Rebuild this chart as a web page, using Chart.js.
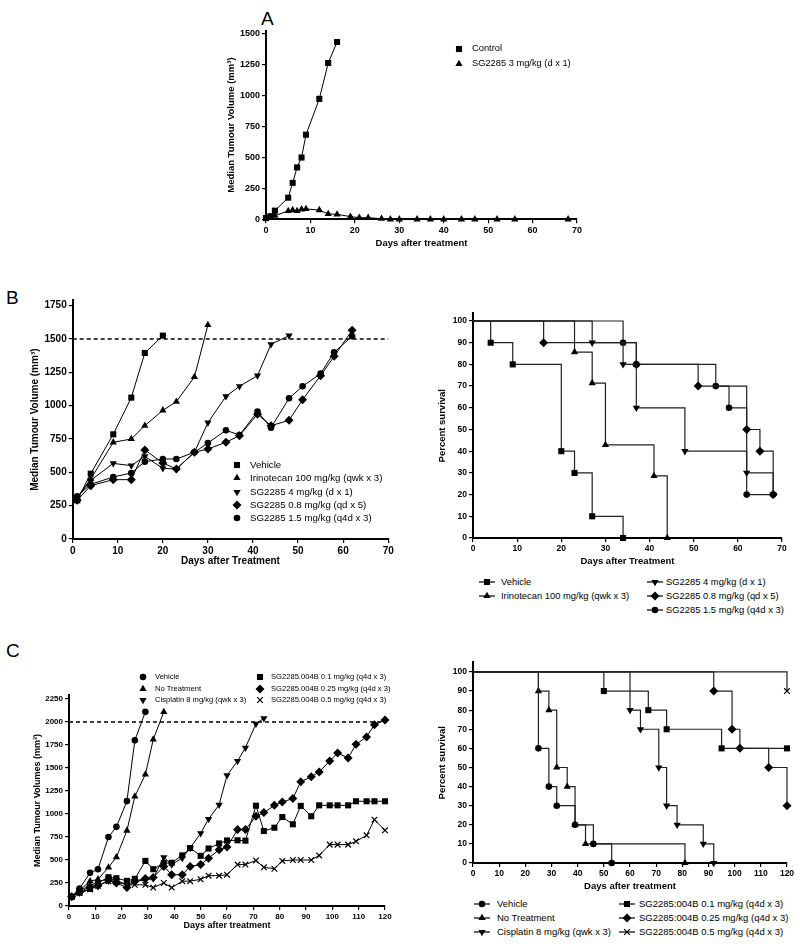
<!DOCTYPE html>
<html>
<head>
<meta charset="utf-8">
<script src="https://cdn.jsdelivr.net/npm/chart.js@4/dist/chart.umd.min.js"></script>
<style>
  body { margin: 0; background: #fff; width: 800px; height: 944px; position: relative; overflow: hidden;
         font-family: 'Liberation Sans', Arial, sans-serif; }
  canvas { position: absolute; }
  .panel { position: absolute; font-size: 19px; color: #000; line-height: 1; }
  .lg { position: absolute; white-space: nowrap; line-height: 1; color: #000; transform: translateY(-50%); }
</style>
</head>
<body>
<div class="panel" style="left:261px;top:9px">A</div>
<div class="panel" style="left:6px;top:288px">B</div>
<div class="panel" style="left:6px;top:641px">C</div>

<canvas id="chartA"></canvas>
<canvas id="chartB1"></canvas>
<canvas id="chartB2"></canvas>
<canvas id="chartC1"></canvas>
<canvas id="chartC2"></canvas>

<script>
// ---- tick labels ----
const days70 = [0, 10, 20, 30, 40, 50, 60, 70];
const days120 = [0, 10, 20, 30, 40, 50, 60, 70, 80, 90, 100, 110, 120];
const aYTicks = [0, 250, 500, 750, 1000, 1250, 1500];
const bYTicks = [0, 250, 500, 750, 1000, 1250, 1500, 1750];
const cYTicks = [0, 250, 500, 750, 1000, 1250, 1500, 1750, 2000, 2250];
const survTicks = [0, 10, 20, 30, 40, 50, 60, 70, 80, 90, 100];

// ---- Panel A: tumour volume ----
const aControlDays = [0, 1, 2, 5, 6, 7, 8, 9, 12, 14, 16];
const aControl = [10, 25, 70, 175, 295, 420, 500, 685, 975, 1265, 1435];
const aSgDays = [0, 1, 2, 5, 6, 7, 8, 9, 12, 14, 16, 19, 21, 23, 26, 28, 30, 34, 37, 40, 44, 47, 52, 56, 68];
const aSg = [10, 20, 30, 67, 75, 67, 81, 84, 75, 43, 40, 22, 13, 13, 5, 0, 0, 0, 0, 0, 0, 0, 0, 0, 0];

// ---- Panel B left: tumour volume ----
const bDays = [1, 4, 9, 13, 16, 20, 23, 27, 30, 34, 37, 41, 44, 48, 51, 55, 58, 62];
const bVehicle = [290, 490, 785, 1060, 1395, 1525];
const bIrino = [310, 450, 725, 750, 850, 965, 1030, 1215, 1605];
const bSg4 = [310, 440, 567, 550, 620, 530, 525, 650, 872, 1070, 1145, 1225, 1460, 1525];
const bSg08 = [290, 400, 445, 445, 668, 570, 525, 650, 675, 725, 775, 935, 850, 890, 1045, 1225, 1370, 1565];
const bSg15 = [320, 410, 465, 495, 580, 600, 600, 650, 720, 815, 780, 955, 835, 1055, 1145, 1240, 1400, 1520];
const bLimit = 1500;

// ---- Panel B right: survival ----
const bsVehicleX = [0, 4, 9, 20, 23, 27, 34];
const bsVehicleY = [100, 90, 80, 40, 30, 10, 0];
const bsIrinoX = [0, 23, 27, 30, 41, 44];
const bsIrinoY = [100, 85.7, 71.4, 42.9, 28.6, 0];
const bsSg4X = [0, 27, 34, 37, 48, 62, 68];
const bsSg4Y = [100, 90, 80, 60, 40, 30, 20];
const bsSg08X = [0, 16, 37, 51, 62, 65, 68];
const bsSg08Y = [100, 90, 80, 70, 50, 40, 20];
const bsSg15X = [0, 34, 37, 55, 58, 62, 68];
const bsSg15Y = [100, 90, 80, 70, 60, 20, 20];

// ---- Panel C left: tumour volume ----
const cDays = [1, 4, 8, 11, 15, 18, 22, 25, 29, 32, 36, 39, 43, 46, 50, 53, 57, 60, 64, 67, 71, 74, 78, 81, 85, 88, 92, 95, 99, 102, 106, 109, 113, 116, 120];
const cVehicle = [100, 190, 360, 400, 750, 860, 1140, 1800, 2110];
const cNoTreat = [100, 170, 270, 290, 420, 530, 820, 1190, 1430, 1810, 2110];
const cCis = [100, 170, 220, 260, 300, 280, 230, 270, 280, 300, 530, 450, 520, 630, 790, 945, 1100, 1420, 1575, 1720, 1980, 2040];
const cSg01 = [100, 150, 185, 250, 313, 302, 273, 295, 490, 400, 466, 470, 550, 630, 545, 625, 680, 712, 714, 710, 1090, 815, 851, 967, 888, 1088, 975, 1094, 1094, 1094, 1094, 1138, 1138, 1138, 1138];
const cSg025 = [100, 150, 210, 220, 280, 250, 200, 270, 300, 310, 430, 340, 340, 430, 450, 520, 610, 640, 830, 830, 975, 1015, 1094, 1130, 1167, 1350, 1405, 1457, 1575, 1663, 1609, 1757, 1837, 1971, 2020];
const cSg05 = [100, 140, 180, 220, 270, 260, 230, 230, 230, 200, 250, 200, 270, 270, 290, 330, 330, 340, 450, 450, 495, 420, 405, 490, 500, 500, 500, 550, 667, 667, 667, 703, 768, 938, 822];
const cLimit = 2000;

// ---- Panel C right: survival ----
const csVehicleX = [0, 25, 29, 32, 39, 46, 53];
const csVehicleY = [100, 60, 40, 30, 20, 10, 0];
const csNoTreatX = [0, 25, 29, 32, 36, 39, 43, 81];
const csNoTreatY = [100, 90, 80, 50, 40, 20, 10, 0];
const csCisX = [0, 60, 64, 71, 74, 78, 88, 92];
const csCisY = [100, 80, 70, 50, 30, 20, 10, 0];
const csSg01X = [0, 50, 67, 74, 95, 120];
const csSg01Y = [100, 90, 80, 70, 60, 60];
const csSg025X = [0, 92, 99, 102, 113, 120];
const csSg025Y = [100, 90, 70, 60, 50, 30];
const csSg05X = [0, 120];
const csSg05Y = [100, 90];

const FONT = "'Liberation Sans', Arial, sans-serif";

const SQ = { shape: 'rect', r: 4.3 };
const TRI = { shape: 'triangle', r: 4.2 };
const DTRI = { shape: 'triangle', rot: 180, r: 4.2 };
const DIA = { shape: 'rectRot', r: 4.5 };
const CIR = { shape: 'circle', r: 3.3 };
const CRS = { shape: 'crossRot', r: 4 };

function xy(xs, ys) {
  return ys.map((y, i) => ({ x: xs[i], y: y }));
}

function series(xs, ys, st, km) {
  return {
    data: xy(xs, ys),
    borderColor: km ? '#222' : '#000',
    borderWidth: km ? 1.2 : 1,
    stepped: km ? 'before' : false,
    pointStyle: st.shape,
    pointRotation: st.rot || 0,
    pointRadius: km ? (c => c.dataIndex === 0 ? 0 : st.r) : st.r,
    pointBackgroundColor: '#000',
    pointBorderColor: '#000',
    pointBorderWidth: st.shape === 'crossRot' ? 1.2 : 0,
    fill: false,
    tension: 0,
    clip: false
  };
}

function limitLine(xs, value) {
  return {
    data: xs.map(x => ({ x: x, y: value })),
    borderColor: '#000', borderWidth: 1.5, borderDash: [4, 3],
    pointRadius: 0, fill: false, clip: false
  };
}

function axis(c, horiz, size) {
  return {
    type: 'linear', min: c.min, max: c.max,
    afterFit: s => { if (horiz) s.height = size; else s.width = size; },
    afterBuildTicks: s => { s.ticks = c.ticks.map(v => ({ value: v })); },
    ticks: {
      autoSkip: false, maxRotation: 0, padding: 2, color: '#000',
      callback: v => String(v),
      font: { family: FONT, weight: 'bold', size: c.tickSize }
    },
    grid: { drawOnChartArea: false, drawTicks: true, tickLength: 4, color: '#000', lineWidth: 1.2 },
    border: { display: true, color: '#000', width: 2 },
    title: {
      display: true, text: c.title, color: '#000', padding: 4,
      font: { family: FONT, weight: 'bold', size: c.titleSize }
    }
  };
}

function makeChart(id, area, yTitleX, xTitleY, xCfg, yCfg, datasets) {
  const left = Math.round(yTitleX - (4 + 0.6 * yCfg.titleSize));
  const bottom = Math.round(xTitleY + (4 + 0.6 * xCfg.titleSize));
  const top = Math.round(area.top - 14);
  const right = Math.round(area.right + 22);
  const cv = document.getElementById(id);
  cv.width = right - left;
  cv.height = bottom - top;
  cv.style.left = left + 'px';
  cv.style.top = top + 'px';
  return new Chart(cv, {
    type: 'line',
    data: { datasets: datasets },
    options: {
      responsive: false,
      animation: false,
      devicePixelRatio: 1,
      layout: { padding: { left: 0, bottom: 0, top: area.top - top, right: right - area.right } },
      plugins: { legend: { display: false }, tooltip: { enabled: false } },
      scales: {
        x: axis(xCfg, true, bottom - area.bottom),
        y: axis(yCfg, false, area.left - left)
      }
    }
  });
}

function legend(items, fontSize, lined) {
  items.forEach(it => {
    const c = document.createElement('canvas');
    c.width = 20; c.height = 14;
    c.style.left = (it.mx - 10) + 'px';
    c.style.top = (it.y - 7) + 'px';
    document.body.appendChild(c);
    const ctx = c.getContext('2d');
    ctx.fillStyle = '#000';
    ctx.strokeStyle = '#000';
    if (lined) {
      ctx.lineWidth = 1.2;
      ctx.beginPath(); ctx.moveTo(2, 7); ctx.lineTo(18, 7); ctx.stroke();
    }
    const st = it.st;
    ctx.lineWidth = st.shape === 'crossRot' ? 1.2 : 0;
    Chart.helpers.drawPoint(ctx, {
      pointStyle: st.shape, radius: st.r, rotation: st.rot || 0,
      borderWidth: st.shape === 'crossRot' ? 1.2 : 0
    }, 10, 7);
    const t = document.createElement('div');
    t.className = 'lg';
    t.style.left = it.tx + 'px';
    t.style.top = it.y + 'px';
    t.style.fontSize = fontSize + 'px';
    t.textContent = it.text;
    document.body.appendChild(t);
  });
}

// Panel A
makeChart('chartA', { left: 266, right: 577, top: 30.9, bottom: 219.3 }, 232, 243,
  { min: 0, max: 70, ticks: days70, tickSize: 9, titleSize: 9.5, title: 'Days after treatment' },
  { min: 0, max: 1525, ticks: aYTicks, tickSize: 9, titleSize: 9.5, title: 'Median Tumour Volume (mm³)' },
  [series(aControlDays, aControl, SQ), series(aSgDays, aSg, TRI)]);

legend([
  { mx: 459, y: 49, tx: 472, st: SQ, text: 'Control' },
  { mx: 459, y: 64, tx: 472, st: TRI, text: 'SG2285 3 mg/kg (d x 1)' }
], 9.3, false);

// Panel B left
makeChart('chartB1', { left: 72.7, right: 388.2, top: 300.3, bottom: 539 }, 35, 561,
  { min: 0, max: 70, ticks: days70, tickSize: 10, titleSize: 10, title: 'Days after Treatment' },
  { min: 0, max: 1790, ticks: bYTicks, tickSize: 10, titleSize: 10, title: 'Median Tumour Volume (mm³)' },
  [limitLine([0, 70], bLimit),
   series(bDays, bVehicle, SQ), series(bDays, bIrino, TRI), series(bDays, bSg4, DTRI),
   series(bDays, bSg08, DIA), series(bDays, bSg15, CIR)]);

legend([
  { mx: 237, y: 464.5, tx: 250, st: SQ, text: 'Vehicle' },
  { mx: 237, y: 478, tx: 250, st: TRI, text: 'Irinotecan 100 mg/kg (qwk x 3)' },
  { mx: 237, y: 491.5, tx: 250, st: DTRI, text: 'SG2285 4 mg/kg (d x 1)' },
  { mx: 237, y: 504.5, tx: 250, st: DIA, text: 'SG2285 0.8 mg/kg (qd x 5)' },
  { mx: 237, y: 517.5, tx: 250, st: CIR, text: 'SG2285 1.5 mg/kg (q4d x 3)' }
], 9.7, false);

// Panel B right
makeChart('chartB2', { left: 473, right: 782, top: 313.4, bottom: 538 }, 443, 561.5,
  { min: 0, max: 70, ticks: days70, tickSize: 8.5, titleSize: 9.5, title: 'Days after Treatment' },
  { min: 0, max: 103.5, ticks: survTicks, tickSize: 8.5, titleSize: 9.5, title: 'Percent survival' },
  [series(bsVehicleX, bsVehicleY, SQ, true), series(bsIrinoX, bsIrinoY, TRI, true),
   series(bsSg4X, bsSg4Y, DTRI, true), series(bsSg08X, bsSg08Y, DIA, true),
   series(bsSg15X, bsSg15Y, CIR, true)]);

legend([
  { mx: 487, y: 582, tx: 501, st: SQ, text: 'Vehicle' },
  { mx: 487, y: 596, tx: 501, st: TRI, text: 'Irinotecan 100 mg/kg (qwk x 3)' },
  { mx: 655, y: 582, tx: 666, st: DTRI, text: 'SG2285 4 mg/kg (d x 1)' },
  { mx: 655, y: 596, tx: 666, st: DIA, text: 'SG2285 0.8 mg/kg (qd x 5)' },
  { mx: 655, y: 610, tx: 666, st: CIR, text: 'SG2285 1.5 mg/kg (q4d x 3)' }
], 9.4, true);

// Panel C left
makeChart('chartC1', { left: 69, right: 385, top: 695, bottom: 906 }, 37, 926,
  { min: 0, max: 120, ticks: days120, tickSize: 8, titleSize: 9, title: 'Days after treatment' },
  { min: 0, max: 2293, ticks: cYTicks, tickSize: 8, titleSize: 9, title: 'Median Tumour Volumes (mm³)' },
  [limitLine([0, 120], cLimit),
   series(cDays, cVehicle, CIR), series(cDays, cNoTreat, TRI), series(cDays, cCis, DTRI),
   series(cDays, cSg01, SQ), series(cDays, cSg025, DIA), series(cDays, cSg05, CRS)]);

legend([
  { mx: 143, y: 677, tx: 155, st: CIR, text: 'Vehicle' },
  { mx: 143, y: 688.5, tx: 155, st: TRI, text: 'No Treatment' },
  { mx: 143, y: 700, tx: 155, st: DTRI, text: 'Cisplatin 8 mg/kg (qwk x 3)' },
  { mx: 260, y: 677, tx: 271, st: SQ, text: 'SG2285.004B 0.1 mg/kg (q4d x 3)' },
  { mx: 260, y: 688.5, tx: 271, st: DIA, text: 'SG2285.004B 0.25 mg/kg (q4d x 3)' },
  { mx: 260, y: 700, tx: 271, st: CRS, text: 'SG2285.004B 0.5 mg/kg (q4d x 3)' }
], 7.6, false);

// Panel C right
makeChart('chartC2', { left: 473, right: 787, top: 662.4, bottom: 863 }, 443, 886,
  { min: 0, max: 120, ticks: days120, tickSize: 8.5, titleSize: 9.5, title: 'Days after treatment' },
  { min: 0, max: 105, ticks: survTicks, tickSize: 8.5, titleSize: 9.5, title: 'Percent survival' },
  [series(csVehicleX, csVehicleY, CIR, true), series(csNoTreatX, csNoTreatY, TRI, true),
   series(csCisX, csCisY, DTRI, true), series(csSg01X, csSg01Y, SQ, true),
   series(csSg025X, csSg025Y, DIA, true), series(csSg05X, csSg05Y, CRS, true)]);

legend([
  { mx: 482, y: 904, tx: 497, st: CIR, text: 'Vehicle' },
  { mx: 482, y: 918, tx: 497, st: TRI, text: 'No Treatment' },
  { mx: 482, y: 932, tx: 497, st: DTRI, text: 'Cisplatin 8 mg/kg (qwk x 3)' },
  { mx: 627, y: 904, tx: 639, st: SQ, text: 'SG2285:004B 0.1 mg/kg (q4d x 3)' },
  { mx: 627, y: 918, tx: 639, st: DIA, text: 'SG2285:004B 0.25 mg/kg (q4d x 3)' },
  { mx: 627, y: 932, tx: 639, st: CRS, text: 'SG2285:004B 0.5 mg/kg (q4d x 3)' }
], 9.5, true);
</script>
</body>
</html>
